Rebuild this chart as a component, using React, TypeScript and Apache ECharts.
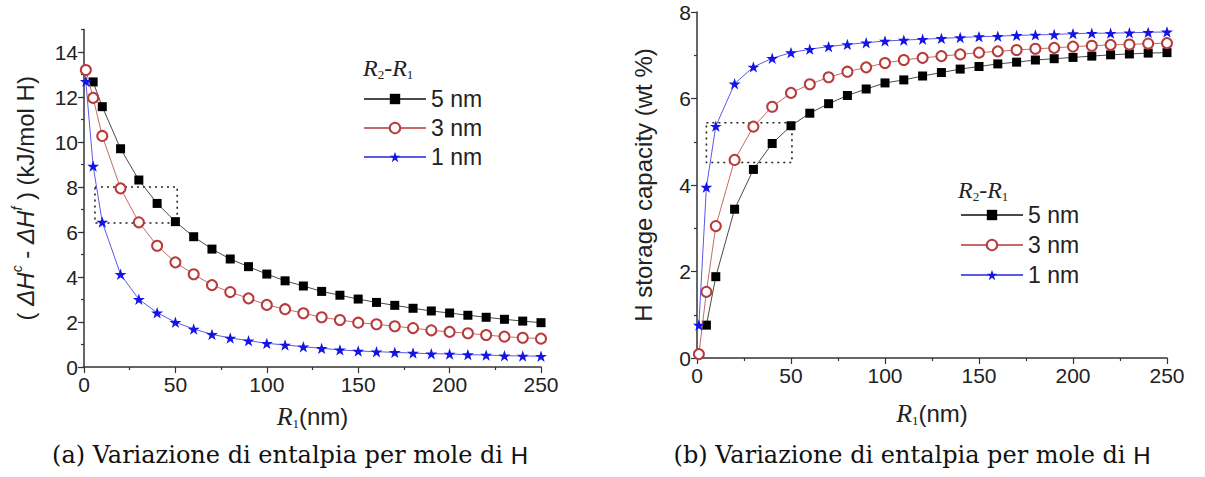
import React, { useEffect, useRef } from "react";
import * as echarts from "echarts";

// ---------- data ----------
const xFrom1 = [1, 5, 10, 20, 30, 40, 50, 60, 70, 80, 90, 100, 110, 120, 130, 140, 150, 160, 170, 180, 190, 200, 210, 220, 230, 240, 250];
const xFrom5 = xFrom1.slice(1);

// (a) enthalpy change per mole H (kJ/mol H)
const enthalpy5nm = [12.67, 11.57, 9.70, 8.31, 7.27, 6.46, 5.79, 5.24, 4.80, 4.46, 4.13, 3.83, 3.60, 3.36, 3.19, 3.02, 2.87, 2.74, 2.61, 2.49, 2.40, 2.30, 2.21, 2.12, 2.04, 1.97];
const enthalpy3nm = [13.2, 11.96, 10.27, 7.94, 6.43, 5.39, 4.65, 4.12, 3.64, 3.33, 3.05, 2.76, 2.57, 2.39, 2.21, 2.09, 1.97, 1.90, 1.81, 1.73, 1.63, 1.56, 1.50, 1.42, 1.35, 1.30, 1.26];
const enthalpy1nm = [12.7, 8.93, 6.44, 4.12, 3.01, 2.41, 1.99, 1.69, 1.45, 1.29, 1.17, 1.05, 0.98, 0.90, 0.83, 0.76, 0.71, 0.68, 0.65, 0.62, 0.59, 0.58, 0.55, 0.53, 0.50, 0.49, 0.48];

// (b) H storage capacity (wt %)
const capacity5nm = [0.76, 1.88, 3.44, 4.36, 4.96, 5.37, 5.66, 5.88, 6.07, 6.22, 6.36, 6.43, 6.52, 6.60, 6.68, 6.74, 6.80, 6.84, 6.89, 6.92, 6.95, 6.98, 7.01, 7.03, 7.05, 7.06];
const capacity3nm = [0.09, 1.53, 3.05, 4.58, 5.35, 5.81, 6.13, 6.33, 6.49, 6.62, 6.72, 6.82, 6.89, 6.94, 6.98, 7.02, 7.06, 7.09, 7.12, 7.15, 7.17, 7.20, 7.22, 7.24, 7.25, 7.27, 7.28];
const capacity1nm = [0.76, 3.95, 5.36, 6.34, 6.73, 6.93, 7.06, 7.14, 7.20, 7.25, 7.29, 7.33, 7.35, 7.37, 7.39, 7.41, 7.43, 7.44, 7.46, 7.47, 7.48, 7.50, 7.51, 7.51, 7.52, 7.53, 7.54];

const seriesNames = ["5 nm", "3 nm", "1 nm"];
const xTicks = [0, 50, 100, 150, 200, 250];
const yTicksA = [0, 2, 4, 6, 8, 10, 12, 14];
const yTicksB = [0, 2, 4, 6, 8];

// dotted boxes [x0, y0, x1, y1]
const boxA = [6, 8.0, 51, 6.4];
const boxB = [5, 5.44, 50.5, 4.52];

const captionA = "(a) Variazione di entalpia per mole di ";
const captionB = "(b) Variazione di entalpia per mole di ";

// ---------- styles ----------
const SANS = "Liberation Sans, Arial, sans-serif";
const SERIF = "Liberation Serif, Times New Roman, serif";
const CAPSERIF = "DejaVu Serif, serif";
const STAR = "path://M50,0 L61.8,35.1 L98.1,35.1 L68.8,56.8 L79.4,91 L50,70 L20.6,91 L31.2,56.8 L1.9,35.1 L38.2,35.1 Z";

const styles = [
  { symbol: "rect", symbolSize: 9, color: "#000000", line: "#4a4a4a" },
  { symbol: "emptyCircle", symbolSize: 10, color: "#b83a3a", line: "#c46a6a" },
  { symbol: STAR, symbolSize: 12, color: "#1414e6", line: "#5a5ae8" },
];

const pairs = (xs: number[], ys: number[]) => xs.map((x, i) => [x, ys[i]]);

function makeSeries(idx: number, xs: number[], ys: number[], axisIndex: number, yAxisIndex: number) {
  const s = styles[idx];
  return {
    type: "line",
    name: seriesNames[idx],
    xAxisIndex: axisIndex,
    yAxisIndex,
    data: pairs(xs, ys),
    symbol: s.symbol,
    symbolSize: s.symbolSize,
    symbolKeepAspect: true,
    showAllSymbol: true,
    lineStyle: { color: s.line, width: 1 },
    itemStyle: { color: s.color, borderColor: s.color, borderWidth: idx === 1 ? 1.2 : 0 },
    emphasis: { disabled: true },
    z: 3 + idx,
  };
}

function boxSeries(box: number[], xAxisIndex: number, yAxisIndex: number) {
  return {
    type: "line",
    name: "box",
    xAxisIndex,
    yAxisIndex,
    data: [],
    silent: true,
    markArea: {
      silent: true,
      label: { show: false },
      itemStyle: { color: "rgba(0,0,0,0)", borderColor: "#222", borderWidth: 1.6, borderType: [2, 4] },
      data: [[{ coord: [box[0], box[1]] }, { coord: [box[2], box[3]] }]],
    },
  };
}

const axisTextStyle = { fontFamily: SANS, fontSize: 21, color: "#222" };
const axisLine = { show: true, lineStyle: { color: "#333", width: 1.5 } };

function xAxis(gridIndex: number, nameGap: number) {
  return {
    type: "value",
    gridIndex,
    min: 0,
    max: 250,
    interval: 50,
    name: "{r|R}{s|1}{n|(nm)}",
    nameLocation: "middle",
    nameGap,
    nameTextStyle: {
      ...axisTextStyle,
      rich: {
        r: { fontFamily: SERIF, fontStyle: "italic", fontSize: 26, lineHeight: 28, color: "#222" },
        s: { fontFamily: SERIF, fontSize: 13, verticalAlign: "bottom", color: "#222" },
        n: { fontFamily: SANS, fontSize: 24, lineHeight: 28, color: "#222" },
      },
    },
    axisLine,
    axisTick: { show: true, length: 6, lineStyle: { color: "#333", width: 1.2 } },
    minorTick: { show: true, splitNumber: 2, length: 3, lineStyle: { color: "#333", width: 1.2 } },
    axisLabel: { ...axisTextStyle, margin: 7, customValues: xTicks },
    splitLine: { show: false },
  };
}

export default function App() {
  const ref = useRef<HTMLDivElement>(null);

  useEffect(() => {
    if (!ref.current) return;
    const chart = echarts.init(ref.current, null, { renderer: "svg" });

    const legendTitle = (x: number, y: number) => ({
      type: "text",
      left: x,
      top: y,
      style: {
        text: "{r|R}{s|2}{d|-}{r|R}{s|1}",
        rich: {
          r: { fontFamily: SERIF, fontStyle: "italic", fontSize: 24, lineHeight: 26, fill: "#222" },
          d: { fontFamily: SERIF, fontSize: 24, lineHeight: 26, fill: "#222" },
          s: { fontFamily: SERIF, fontSize: 13, verticalAlign: "bottom", fill: "#222" },
        },
      },
    });

    const caption = (cx: number, text: string) => ({
      type: "text",
      x: cx,
      y: 455,
      style: {
        text: `{t|${text}}{h|H}`,
        align: "center",
        verticalAlign: "middle",
        rich: {
          t: { fontFamily: CAPSERIF, fontSize: 24, fill: "#111" },
          h: { fontFamily: SANS, fontSize: 24, fill: "#111" },
        },
      },
    });

    const legendCommon = {
      orient: "vertical",
      selectedMode: false,
      itemWidth: 62,
      itemHeight: 13,
      padding: 0,
      data: seriesNames,
      textStyle: { fontFamily: SANS, fontSize: 23, lineHeight: 24, color: "#222" },
    };

    const option = {
      animation: false,
      backgroundColor: "#ffffff",
      grid: [
        { left: 84, top: 29.5, width: 457, height: 337.5 },
        { left: 697, top: 12, width: 470, height: 346 },
      ],
      legend: [
        { ...legendCommon, left: 363, top: 87, itemGap: 5 },
        { ...legendCommon, left: 960, top: 203, itemGap: 6 },
      ],
      xAxis: [xAxis(0, 35), xAxis(1, 41)],
      yAxis: [
        {
          type: "value",
          gridIndex: 0,
          min: 0,
          max: 15,
          interval: 1,
          name: "{p|( }{i|ΔH}{u|c}{p| - }{i|ΔH}{u|f}{p| ) (kJ/mol H)}",
          nameLocation: "middle",
          nameGap: 44,
          nameTextStyle: {
            ...axisTextStyle,
            rich: {
              p: { fontFamily: SANS, fontSize: 24, lineHeight: 30, color: "#222" },
              i: { fontFamily: SANS, fontStyle: "italic", fontSize: 24, lineHeight: 30, color: "#222" },
              u: { fontFamily: SANS, fontStyle: "italic", fontSize: 14, verticalAlign: "top", color: "#222" },
            },
          },
          axisLine,
          axisTick: { show: true, length: 6, customValues: yTicksA, lineStyle: { color: "#333", width: 1.2 } },
          axisLabel: { ...axisTextStyle, margin: 6, customValues: yTicksA },
          splitLine: { show: false },
        },
        {
          type: "value",
          gridIndex: 0,
          min: 0,
          max: 15,
          interval: 1,
          position: "left",
          axisLine: { show: false },
          axisTick: { show: true, length: 3, lineStyle: { color: "#333", width: 1.2 } },
          axisLabel: { show: false },
          splitLine: { show: false },
        },
        {
          type: "value",
          gridIndex: 1,
          min: 0,
          max: 8,
          interval: 2,
          name: "H storage capacity (wt %)",
          nameLocation: "middle",
          nameGap: 42,
          nameTextStyle: { ...axisTextStyle, fontSize: 24 },
          axisLine,
          axisTick: { show: true, length: 6, lineStyle: { color: "#333", width: 1.2 } },
          minorTick: { show: true, splitNumber: 2, length: 3, lineStyle: { color: "#333", width: 1.2 } },
          axisLabel: { ...axisTextStyle, margin: 6, customValues: yTicksB },
          splitLine: { show: false },
        },
      ],
      series: [
        boxSeries(boxA, 0, 0),
        boxSeries(boxB, 1, 2),
        makeSeries(0, xFrom5, enthalpy5nm, 0, 0),
        makeSeries(1, xFrom1, enthalpy3nm, 0, 0),
        makeSeries(2, xFrom1, enthalpy1nm, 0, 0),
        makeSeries(0, xFrom5, capacity5nm, 1, 2),
        makeSeries(1, xFrom1, capacity3nm, 1, 2),
        makeSeries(2, xFrom1, capacity1nm, 1, 2),
      ],
      graphic: [legendTitle(363, 56), legendTitle(958, 178), caption(290, captionA), caption(912, captionB)],
    };

    chart.setOption(option as any);
    return () => chart.dispose();
  }, []);

  return (
    <div
      ref={ref}
      style={{ position: "absolute", left: 0, top: 0, width: 1205, height: 477, background: "#fff" }}
    />
  );
}
